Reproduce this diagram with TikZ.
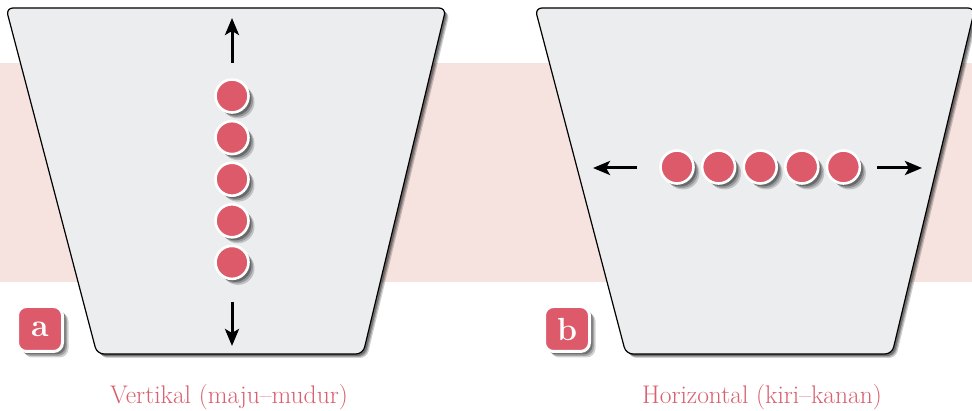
\documentclass[tikz,border=0pt]{standalone}
\usetikzlibrary{shadows,arrows.meta,calc,positioning}
\definecolor{bead}{HTML}{DC5A6A}
\definecolor{band}{HTML}{F6E2DF}
\definecolor{tray}{HTML}{ECEDEF}
\definecolor{capred}{HTML}{D9606E}
\newcommand{\gap}{41.6}
\newcommand{\shiftb}{529}

\tikzset{
  soft/.style={
    drop shadow={shadow xshift=#1,shadow yshift=-#1,opacity=.18,fill=black},
    drop shadow={shadow xshift=#1*0.75,shadow yshift=-#1*0.75,opacity=.22,fill=black},
    drop shadow={shadow xshift=#1*0.5,shadow yshift=-#1*0.5,opacity=.3,fill=black}},
  tray/.style={fill=tray,draw=black,line width=1.2pt,rounded corners=7pt,soft=4pt},
  bead/.style={circle,fill=bead,draw=white,line width=2.6pt,minimum size=33pt,inner sep=0pt,soft=6pt},
  tag/.style={rounded corners=9pt,fill=bead,draw=white,line width=3pt,minimum size=45pt,
    inner sep=0pt,text=white,font=\fontsize{32}{32}\selectfont\bfseries,soft=6pt},
  push/.style={line width=3pt,-{Stealth[length=17pt,width=14pt,inset=4pt]}},
  caption/.style={text=capred,font=\fontsize{25.5}{25.5}\selectfont}
}

\begin{document}
\begin{tikzpicture}[x=1pt,y=-1pt]
\useasboundingbox (0,0) rectangle (972,411);
\fill[white] (0,0) rectangle (972,411);
\fill[band] (0,63) rectangle (972,282);

% trays
\draw[tray] (6,8) -- (446,8) -- (363,354) -- (97,354) -- cycle;
\draw[tray] (6+\shiftb,8) -- (446+\shiftb,8) -- (363+\shiftb,354) -- (97+\shiftb,354) -- cycle;

% a: vertical row
\foreach \i in {1,...,5}{
  \node[bead] (v\i) at (232,{96+(\i-1)*\gap}) {};
}
\coordinate (vupa) at (232,63);
\coordinate (vupb) at (232,18);
\coordinate (vdna) at (232,302);
\coordinate (vdnb) at (232,346);
\draw[push] (vupa) -- (vupb);
\draw[push] (vdna) -- (vdnb);

% b: horizontal row
\foreach \i in {1,...,5}{
  \node[bead] (h\i) at ({677+(\i-1)*\gap},167) {};
}
\coordinate (hlfa) at (637,168);
\coordinate (hlfb) at (593,168);
\coordinate (hrta) at (877,168);
\coordinate (hrtb) at (922,168);
\draw[push] (hlfa) -- (hlfb);
\draw[push] (hrta) -- (hrtb);

% tags and captions
\node[tag] (taga) at (40,329) {a};
\node[tag] (tagb) at (567,329) {b};
\node[caption] (capa) at (229,397) {Vertikal (maju--mudur)};
\node[caption] (capb) at (762,397) {Horizontal (kiri--kanan)};
\end{tikzpicture}
\end{document}
